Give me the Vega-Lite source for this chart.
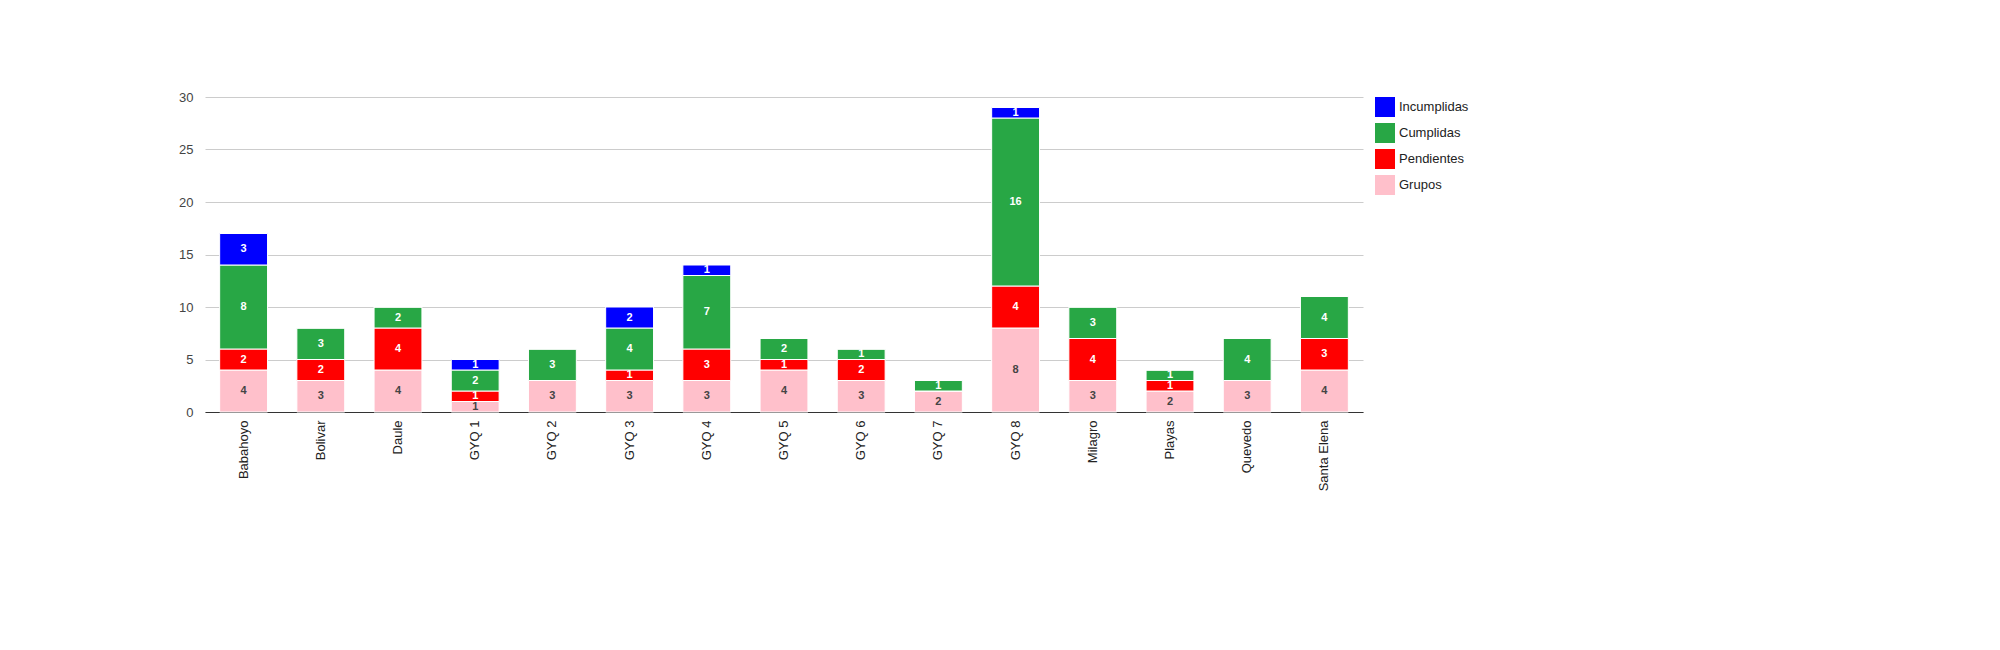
{
"$schema":"https://vega.github.io/schema/vega-lite/v6.json",
"autosize":{"type":"none"},
"padding":{"left":205,"top":97,"right":637,"bottom":238},
"width":1158,"height":315,
"background":"white",
"config":{"font":"Liberation Sans","view":{"stroke":null}},
"data":{"values":[
{"s":"Babahoyo","g":4,"p":2,"c":8,"i":3},
{"s":"Bolivar","g":3,"p":2,"c":3,"i":0},
{"s":"Daule","g":4,"p":4,"c":2,"i":0},
{"s":"GYQ 1","g":1,"p":1,"c":2,"i":1},
{"s":"GYQ 2","g":3,"p":0,"c":3,"i":0},
{"s":"GYQ 3","g":3,"p":1,"c":4,"i":2},
{"s":"GYQ 4","g":3,"p":3,"c":7,"i":1},
{"s":"GYQ 5","g":4,"p":1,"c":2,"i":0},
{"s":"GYQ 6","g":3,"p":2,"c":1,"i":0},
{"s":"GYQ 7","g":2,"p":0,"c":1,"i":0},
{"s":"GYQ 8","g":8,"p":4,"c":16,"i":1},
{"s":"Milagro","g":3,"p":4,"c":3,"i":0},
{"s":"Playas","g":2,"p":1,"c":1,"i":0},
{"s":"Quevedo","g":3,"p":0,"c":4,"i":0},
{"s":"Santa Elena","g":4,"p":3,"c":4,"i":0}
]},
"transform":[
{"fold":["g","p","c","i"],"as":["k","v"]},
{"calculate":"{'g':'Grupos','p':'Pendientes','c':'Cumplidas','i':'Incumplidas'}[datum.k]","as":"serie"},
{"calculate":"indexof(['g','p','c','i'],datum.k)","as":"ord"},
{"stack":"v","groupby":["s"],"sort":[{"field":"ord"}],"as":["y0","y1"]},
{"calculate":"(datum.y0+datum.y1)/2","as":"ym"}
],
"encoding":{
"x":{"field":"s","type":"nominal","title":null,"scale":{"paddingInner":0.38,"paddingOuter":0.19},
"axis":{"labelAngle":-90,"labelFontSize":13,"labelColor":"#222","ticks":false,"domainColor":"#333","labelPadding":8}}
},
"layer":[
{"mark":{"type":"bar","stroke":"white","strokeWidth":1},
"encoding":{
"y":{"field":"y0","type":"quantitative","title":null,"scale":{"domain":[0,30]},
"axis":{"values":[0,5,10,15,20,25,30],"labelFontSize":13,"labelColor":"#444","gridColor":"#ccc","domain":false,"ticks":false,"labelPadding":12}},
"y2":{"field":"y1"},
"color":{"field":"serie","type":"nominal","scale":{"domain":["Incumplidas","Cumplidas","Pendientes","Grupos"],"range":["#0000ff","#28a745","#ff0000","#ffc0cb"]},
"legend":{"title":null,"orient":"right","offset":12,"labelFontSize":13,"labelColor":"#222","symbolType":"square","symbolSize":400,"symbolStrokeWidth":0,"rowPadding":6}}
}},
{"transform":[{"filter":"datum.v>0"}],
"mark":{"type":"text","fontSize":11,"fontWeight":"bold","baseline":"middle"},
"encoding":{
"y":{"field":"ym","type":"quantitative"},
"text":{"field":"v","type":"quantitative"},
"color":{"condition":{"test":"datum.k=='g'","value":"#444"},"value":"white"}
}}
]
}
